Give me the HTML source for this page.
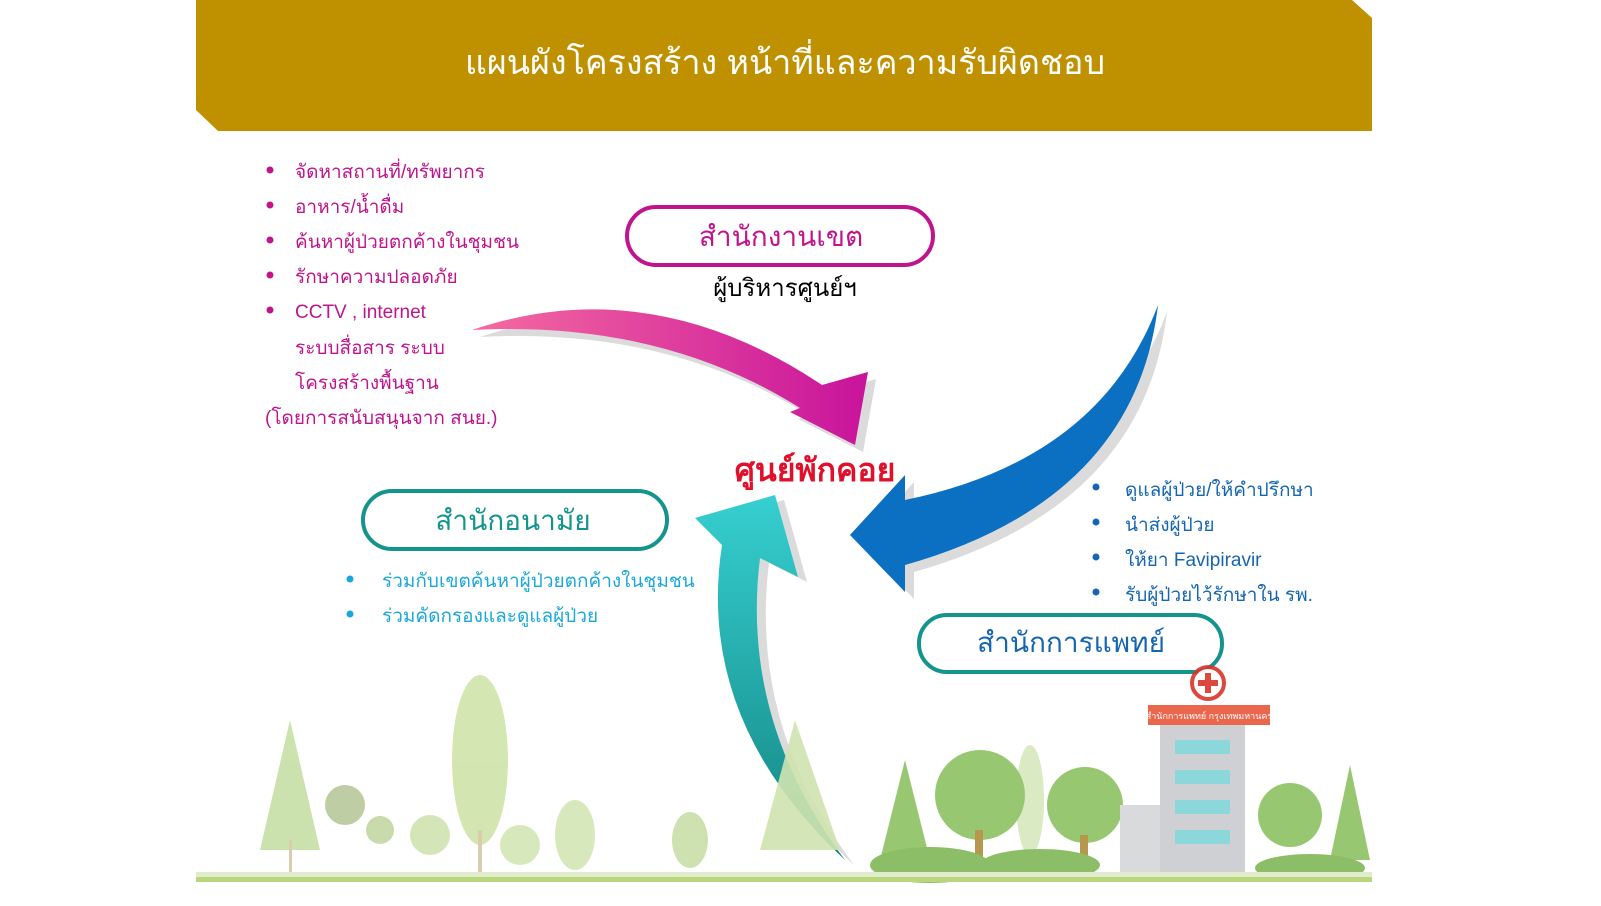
<!DOCTYPE html>
<html><head><meta charset="utf-8"><style>
html,body{margin:0;padding:0;background:#fff;}
svg text{font-family:"Liberation Sans","Noto Sans CJK SC","WenQuanYi Zen Hei",sans-serif;}
</style></head><body>
<svg width="1601" height="901" viewBox="0 0 1601 901" xmlns="http://www.w3.org/2000/svg">
<defs>
<linearGradient id="pk" x1="0" y1="0" x2="1" y2="0"><stop offset="0" stop-color="#F56BA0"/><stop offset="1" stop-color="#C8139B"/></linearGradient>
<linearGradient id="tl" x1="0" y1="0" x2="0" y2="1"><stop offset="0" stop-color="#36CFD0"/><stop offset="1" stop-color="#138582"/></linearGradient>
</defs>
<polygon points="196,0 1352,0 1372,18 1372,131 218,131 196,110" fill="#BF9000"/>
<text x="785" y="74" font-size="34" fill="#fff" text-anchor="middle">แผนผังโครงสร้าง หน้าที่และความรับผิดชอบ</text>

<g fill="#C0148C" font-size="19">
<circle cx="270" cy="170" r="3.5"/><text x="295" y="178">จัดหาสถานที่/ทรัพยากร</text>
<circle cx="270" cy="205" r="3.5"/><text x="295" y="213">อาหาร/น้ำดื่ม</text>
<circle cx="270" cy="240" r="3.5"/><text x="295" y="248">ค้นหาผู้ป่วยตกค้างในชุมชน</text>
<circle cx="270" cy="275" r="3.5"/><text x="295" y="283">รักษาความปลอดภัย</text>
<circle cx="270" cy="310" r="3.5"/><text x="295" y="318">CCTV , internet</text>
<text x="295" y="354">ระบบสื่อสาร ระบบ</text>
<text x="295" y="389">โครงสร้างพื้นฐาน</text>
<text x="265" y="424">(โดยการสนับสนุนจาก สนย.)</text>
</g>

<!-- arrows -->
<path d="M472,330 Q650,270 822,385 L868,372 L855,445 L790,412 L800,408 Q660,320 472,330 Z" fill="#ccc" transform="translate(8,7)" opacity="0.7"/>
<path d="M472,330 Q650,270 822,385 L868,372 L855,445 L790,412 L800,408 Q660,320 472,330 Z" fill="url(#pk)"/>
<path d="M1158,305 Q1100,460 905,500 L905,475 L850,535 L905,592 L905,565 Q1135,500 1158,305 Z" fill="#ccc" transform="translate(9,7)" opacity="0.7"/>
<path d="M1158,305 Q1100,460 905,500 L905,475 L850,535 L905,592 L905,565 Q1135,500 1158,305 Z" fill="#0B6FC2"/>
<path d="M845,860 Q695,720 722,545 L695,518 L775,495 L798,577 L760,558 Q740,720 845,860 Z" fill="#ccc" transform="translate(9,5)" opacity="0.7"/>
<path d="M845,860 Q695,720 722,545 L695,518 L775,495 L798,577 L760,558 Q740,720 845,860 Z" fill="url(#tl)"/>

<rect x="627" y="207" width="306" height="58" rx="29" fill="#fff" stroke="#C0148C" stroke-width="4"/>
<text x="781" y="246" font-size="28" fill="#C0148C" text-anchor="middle">สำนักงานเขต</text>
<text x="785" y="296" font-size="24" fill="#000" text-anchor="middle">ผู้บริหารศูนย์ฯ</text>

<rect x="363" y="491" width="304" height="58" rx="29" fill="#fff" stroke="#14948C" stroke-width="4"/>
<text x="513" y="530" font-size="28" fill="#14948C" text-anchor="middle">สำนักอนามัย</text>
<g fill="#1BA8D8" font-size="19">
<circle cx="350" cy="579" r="3.5"/><text x="382" y="587">ร่วมกับเขตค้นหาผู้ป่วยตกค้างในชุมชน</text>
<circle cx="350" cy="614" r="3.5"/><text x="382" y="622">ร่วมคัดกรองและดูแลผู้ป่วย</text>
</g>

<text x="815" y="481" font-size="32" font-weight="bold" fill="#E0102A" stroke="#fff" stroke-width="3" paint-order="stroke" text-anchor="middle">ศูนย์พักคอย</text>

<g fill="#1565B0" font-size="19">
<circle cx="1096" cy="487" r="3.5"/><text x="1125" y="496">ดูแลผู้ป่วย/ให้คำปรึกษา</text>
<circle cx="1096" cy="522" r="3.5"/><text x="1125" y="531">นำส่งผู้ป่วย</text>
<circle cx="1096" cy="557" r="3.5"/><text x="1125" y="566">ให้ยา Favipiravir</text>
<circle cx="1096" cy="592" r="3.5"/><text x="1125" y="601">รับผู้ป่วยไว้รักษาใน รพ.</text>
</g>
<rect x="919" y="615" width="303" height="57" rx="28" fill="#fff" stroke="#14948C" stroke-width="4"/>
<text x="1071" y="652" font-size="28" fill="#1565B0" text-anchor="middle">สำนักการแพทย์</text>

<g opacity="0.9">
<polygon points="290,720 260,850 320,850" fill="#C6DFA6"/>
<rect x="289" y="840" width="3" height="35" fill="#D5C8A8"/>
<ellipse cx="480" cy="760" rx="28" ry="85" fill="#CFE3A8"/>
<rect x="478" y="830" width="4" height="45" fill="#D5C8A8"/>
<circle cx="345" cy="805" r="20" fill="#B7C89A"/>
<circle cx="380" cy="830" r="14" fill="#C4D6A4"/>
<circle cx="430" cy="835" r="20" fill="#D0E4B0"/>
<ellipse cx="575" cy="835" rx="20" ry="35" fill="#D4E6B6"/>
<ellipse cx="520" cy="845" rx="20" ry="20" fill="#D4E6B6"/>
<ellipse cx="690" cy="840" rx="18" ry="28" fill="#C9DEA8"/>
<polygon points="795,720 760,850 840,850" fill="#D0E4B0"/>
<polygon points="905,760 880,860 930,860" fill="#8DC263"/>
<ellipse cx="1030" cy="800" rx="14" ry="55" fill="#D6E8BC"/>
<circle cx="980" cy="795" r="45" fill="#8DC263"/>
<rect x="975" y="830" width="8" height="45" fill="#B08B3A"/>
<circle cx="1085" cy="805" r="38" fill="#8DC263"/>
<rect x="1080" y="835" width="8" height="40" fill="#B08B3A"/>
<rect x="1160" y="725" width="85" height="150" fill="#C9CCCF"/>
<rect x="1120" y="805" width="40" height="70" fill="#D4D6D8"/>
<rect x="1148" y="705" width="122" height="20" fill="#E8563A"/>
<text x="1209" y="719" font-size="9" fill="#fff" text-anchor="middle">สำนักการแพทย์ กรุงเทพมหานคร</text>
<circle cx="1208" cy="683" r="16" fill="#fff" stroke="#D9342A" stroke-width="4"/>
<rect x="1205" y="673" width="6" height="20" fill="#D9342A"/><rect x="1198" y="680" width="20" height="6" fill="#D9342A"/>
<g fill="#7FD3D6"><rect x="1175" y="740" width="55" height="14"/><rect x="1175" y="770" width="55" height="14"/><rect x="1175" y="800" width="55" height="14"/><rect x="1175" y="830" width="55" height="14"/></g>
<circle cx="1290" cy="815" r="32" fill="#8DC263"/>
<polygon points="1350,765 1330,860 1370,860" fill="#8DC263"/>
<ellipse cx="930" cy="865" rx="60" ry="18" fill="#7FB856"/>
<ellipse cx="1040" cy="865" rx="60" ry="16" fill="#7FB856"/>
<ellipse cx="1310" cy="868" rx="55" ry="14" fill="#7FB856"/>
</g>
<rect x="196" y="872" width="1176" height="5" fill="#E1EBCD"/>
<rect x="196" y="877" width="1176" height="5" fill="#B9D77A"/>
</svg>
</body></html>
